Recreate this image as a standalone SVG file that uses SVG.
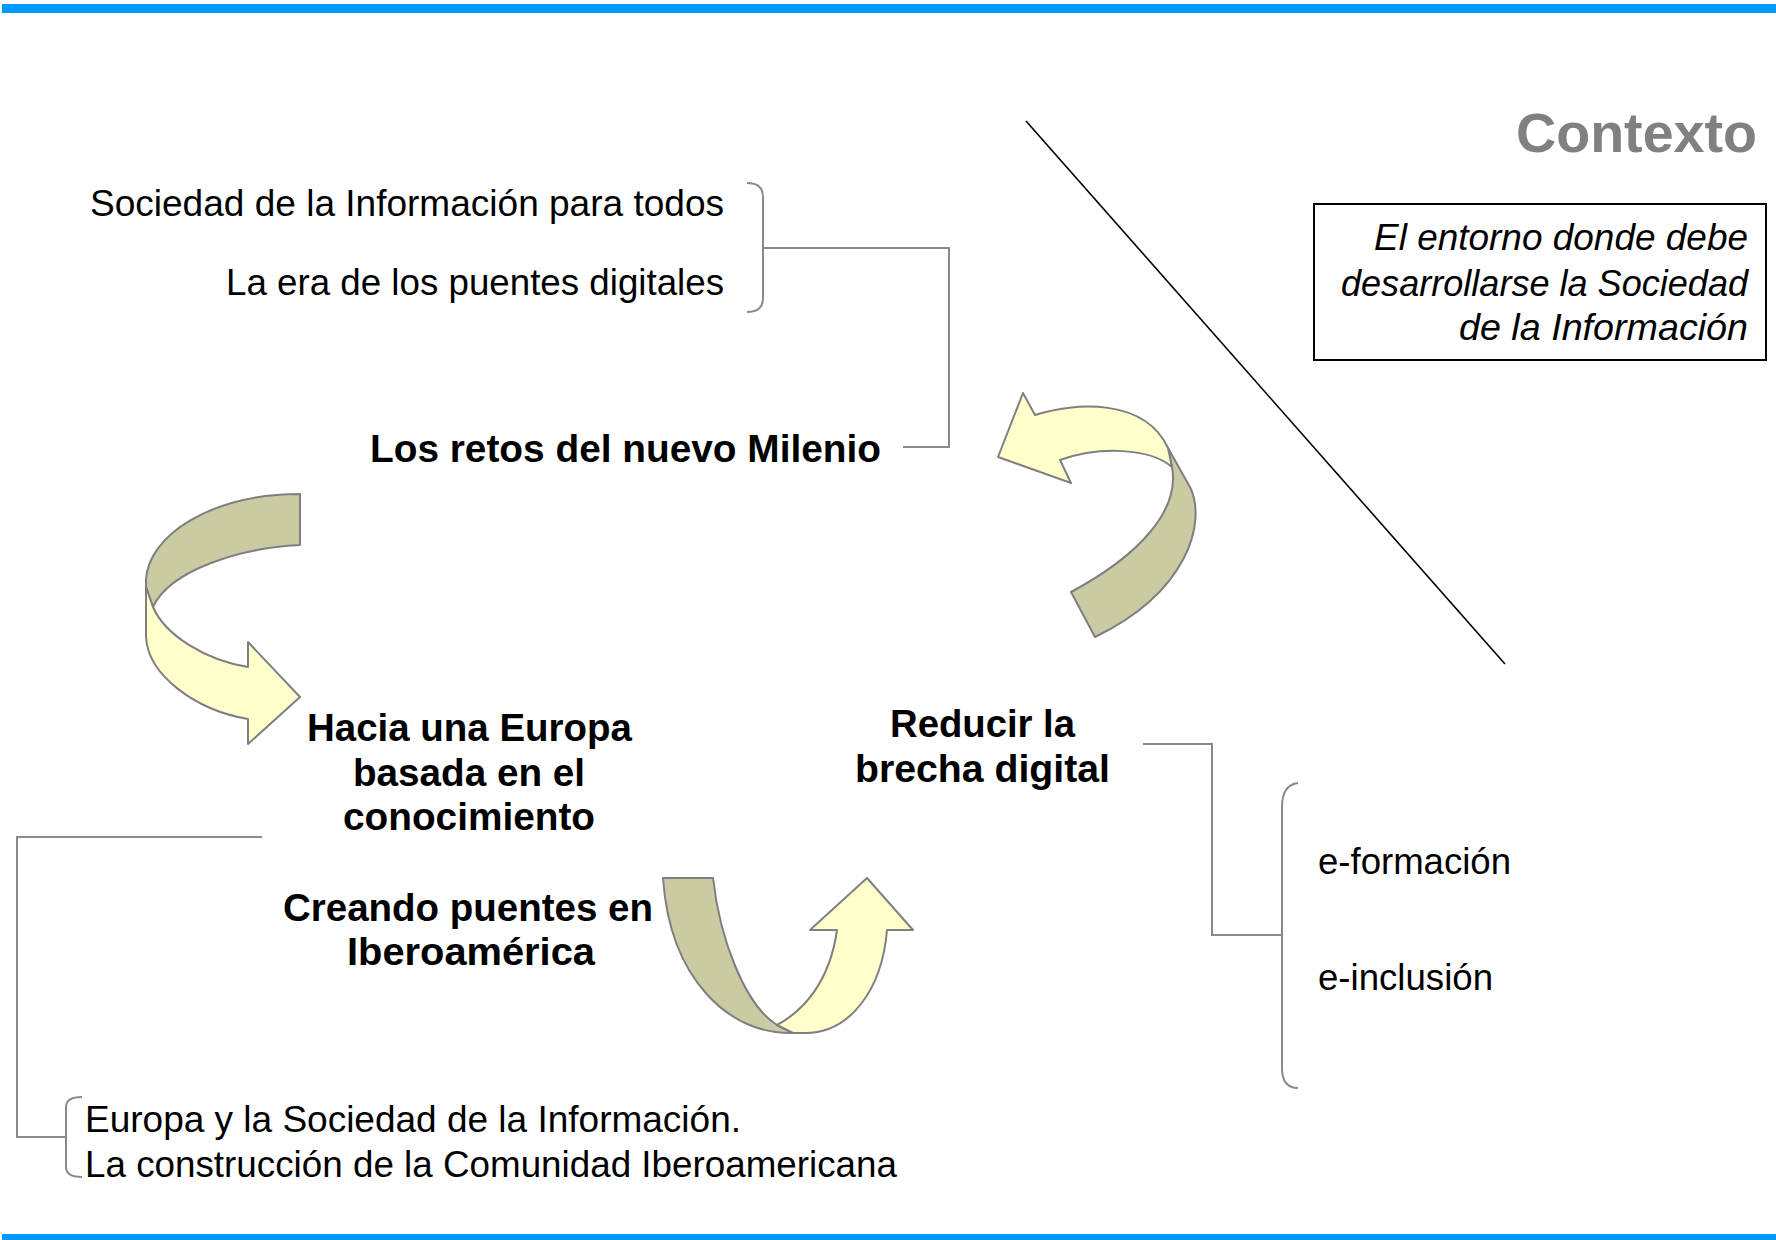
<svg xmlns="http://www.w3.org/2000/svg" width="1776" height="1240" viewBox="0 0 1776 1240">
<defs>
<style>
.reg{font-family:"Liberation Sans",Arial,sans-serif;font-size:37px;fill:#000}
.bold{font-family:"Liberation Sans",Arial,sans-serif;font-size:39px;font-weight:bold;fill:#000}
.ital{font-family:"Liberation Sans",Arial,sans-serif;font-size:37px;font-style:italic;fill:#000}
.conn{fill:none;stroke:#8a8a8a;stroke-width:2}
.yel{fill:#FFFFCC;stroke:#7f7f7f;stroke-width:2;stroke-linejoin:round}
.kha{fill:#CBCBA3;stroke:#7f7f7f;stroke-width:2;stroke-linejoin:round}
</style>
</defs>
<rect x="0" y="0" width="1776" height="1240" fill="#fff"/>
<g id="frame">
<rect x="2" y="4" width="1774" height="9" fill="#0099FF"/>
<rect x="2" y="1234" width="1774" height="9" fill="#0099FF"/>
<line x1="1026" y1="121" x2="1505" y2="664" stroke="#000" stroke-width="1.6"/>
</g>
<g id="connectors">
<path class="conn" d="M747,183 Q763,183 763,197 L763,298 Q763,312 747,312"/>
<path class="conn" d="M763,248 L949,248 L949,447 L903,447"/>
<path class="conn" d="M1143,744 L1212,744 L1212,935 L1282,935"/>
<path class="conn" d="M1298,783 Q1282,785 1282,807 L1282,1068 Q1282,1088 1298,1088"/>
<path class="conn" d="M262,837 L17,837 L17,1137 L66,1137"/>
<path class="conn" d="M82,1097 Q66,1097 66,1107 L66,1167 Q66,1177 82,1177"/>
</g>
<g id="arrow-top-right">
<path class="kha" d="M1168,448 L1190,487 C1207,522 1188,592 1095,637 L1071,592 C1140,555 1180,510 1172,467 Z"/>
<path class="yel" d="M998,457 L1023,393 L1035,415 C1075,402 1145,398 1168,448 L1172,467 C1150,448 1100,446 1060,460 L1071,483 Z"/>
</g>
<g id="arrow-left">
<path class="kha" d="M300,494 L300,545 C240,548 170,570 153,607 L146,587 L146,580 C148,535 212,494 300,494 Z"/>
<path class="yel" d="M146,587 L146,637 C148,675 195,710 248,719 L248,744 L300,697 L248,642 L248,667 C205,660 165,635 153,607 Z"/>
</g>
<g id="arrow-bottom">
<path class="kha" d="M663,878 L713,878 C720,940 745,1005 777,1025 L793,1033 C730,1035 670,980 663,878 Z"/>
<path class="yel" d="M777,1025 C805,1010 830,980 837,930 L810,930 L867,878 L913,930 L887,930 C882,990 850,1033 805,1033 L793,1033 Z"/>
</g>
<g id="title">
<text x="1757" y="152" text-anchor="end" textLength="241" lengthAdjust="spacingAndGlyphs" style="font-family:'Liberation Sans',Arial,sans-serif;font-size:56px;font-weight:bold;fill:#808080">Contexto</text>
</g>
<g id="context-box">
<rect x="1314" y="204" width="452" height="156" fill="none" stroke="#000" stroke-width="2"/>
<text class="ital" x="1748" y="250" text-anchor="end" textLength="374" lengthAdjust="spacingAndGlyphs">El entorno donde debe</text>
<text class="ital" x="1748" y="296" text-anchor="end" textLength="407" lengthAdjust="spacingAndGlyphs">desarrollarse la Sociedad</text>
<text class="ital" x="1748" y="340" text-anchor="end" textLength="289" lengthAdjust="spacingAndGlyphs">de la Información</text>
</g>
<g id="node-retos-items">
<text class="reg" x="724" y="216" text-anchor="end" textLength="634" lengthAdjust="spacingAndGlyphs">Sociedad de la Información para todos</text>
<text class="reg" x="724" y="295" text-anchor="end" textLength="498" lengthAdjust="spacingAndGlyphs">La era de los puentes digitales</text>
</g>
<g id="node-retos">
<text class="bold" x="370" y="462" textLength="511" lengthAdjust="spacingAndGlyphs">Los retos del nuevo Milenio</text>
</g>
<g id="node-europa">
<text class="bold" x="469.5" y="741" text-anchor="middle" textLength="325" lengthAdjust="spacingAndGlyphs">Hacia una Europa</text>
<text class="bold" x="469" y="786" text-anchor="middle" textLength="232" lengthAdjust="spacingAndGlyphs">basada en el</text>
<text class="bold" x="469" y="830" text-anchor="middle" textLength="252" lengthAdjust="spacingAndGlyphs">conocimiento</text>
</g>
<g id="node-iberoamerica">
<text class="bold" x="468" y="921" text-anchor="middle" textLength="370" lengthAdjust="spacingAndGlyphs">Creando puentes en</text>
<text class="bold" x="471" y="965" text-anchor="middle" textLength="248" lengthAdjust="spacingAndGlyphs">Iberoamérica</text>
</g>
<g id="node-brecha">
<text class="bold" x="982.5" y="737" text-anchor="middle" textLength="185" lengthAdjust="spacingAndGlyphs">Reducir la</text>
<text class="bold" x="982.5" y="782" text-anchor="middle" textLength="255" lengthAdjust="spacingAndGlyphs">brecha digital</text>
</g>
<g id="node-brecha-items">
<text class="reg" x="1318" y="874" textLength="193" lengthAdjust="spacingAndGlyphs">e-formación</text>
<text class="reg" x="1318" y="990" textLength="175" lengthAdjust="spacingAndGlyphs">e-inclusión</text>
</g>
<g id="node-ibero-items">
<text class="reg" x="85" y="1132" textLength="656" lengthAdjust="spacingAndGlyphs">Europa y la Sociedad de la Información.</text>
<text class="reg" x="85" y="1177" textLength="812" lengthAdjust="spacingAndGlyphs">La construcción de la Comunidad Iberoamericana</text>
</g>
</svg>
